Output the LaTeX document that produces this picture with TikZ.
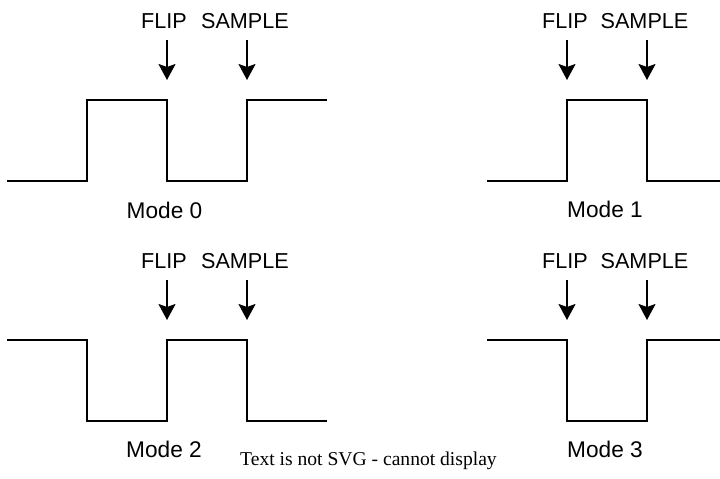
\documentclass[tikz,border=0pt]{standalone}
\usepackage{fontspec}
\setmainfont{Liberation Serif}
\newfontfamily\labelfont{Liberation Sans}
\usetikzlibrary{arrows.meta}

\begin{document}
\begin{tikzpicture}[
  x=0.02cm, y=-0.02cm,
  wave/.style={line width=0.04cm, line join=miter},
  arr/.style={-{Stealth[length=0.32cm, width=0.34cm, inset=0.06cm]}, line width=0.04cm},
  lbl/.style={font=\labelfont\fontsize{12.3}{14.5}\selectfont, anchor=base, inner sep=0pt},
  mode/.style={font=\labelfont\fontsize{12.9}{15}\selectfont, anchor=base, inner sep=0pt}
]
\useasboundingbox (0,0) rectangle (720,478);

%% pixel grid: 720 x 478, y grows downwards
%% rows: high level 100 / 340, low level 181 / 421

%% ─── MODE 0 (top left) ─────────────────────────────────────────────
\draw[wave] (7,181) -- (87,181) -- (87,100) -- (167,100) -- (167,181)
  -- (247,181) -- (247,100) -- (327,100);
\coordinate (m0_flip_top) at (167,40);
\coordinate (m0_flip_tip) at (167,80);
\coordinate (m0_smp_top) at (247,40);
\coordinate (m0_smp_tip) at (247,80);
\node[lbl] (m0_flip) at (164,28) {FLIP};
\node[lbl] (m0_smp) at (245,28) {SAMPLE};
\draw[arr] (m0_flip_top) -- (m0_flip_tip);
\draw[arr] (m0_smp_top) -- (m0_smp_tip);
\node[mode] (m0_cap) at (164.5,218) {Mode 0};

%% ─── MODE 1 (top right) ────────────────────────────────────────────
\draw[wave] (487,181) -- (567,181) -- (567,100) -- (647,100) -- (647,181)
  -- (720,181);
\coordinate (m1_flip_top) at (567,40);
\coordinate (m1_flip_tip) at (567,80);
\coordinate (m1_smp_top) at (647,40);
\coordinate (m1_smp_tip) at (647,80);
\node[lbl] (m1_flip) at (565,28) {FLIP};
\node[lbl] (m1_smp) at (644.5,28) {SAMPLE};
\draw[arr] (m1_flip_top) -- (m1_flip_tip);
\draw[arr] (m1_smp_top) -- (m1_smp_tip);
\node[mode] (m1_cap) at (605,217) {Mode 1};

%% ─── MODE 2 (bottom left) ──────────────────────────────────────────
\draw[wave] (7,340) -- (87,340) -- (87,421) -- (167,421) -- (167,340)
  -- (247,340) -- (247,421) -- (327,421);
\coordinate (m2_flip_top) at (167,280);
\coordinate (m2_flip_tip) at (167,320);
\coordinate (m2_smp_top) at (247,280);
\coordinate (m2_smp_tip) at (247,320);
\node[lbl] (m2_flip) at (164,268) {FLIP};
\node[lbl] (m2_smp) at (245,268) {SAMPLE};
\draw[arr] (m2_flip_top) -- (m2_flip_tip);
\draw[arr] (m2_smp_top) -- (m2_smp_tip);
\node[mode] (m2_cap) at (164,457) {Mode 2};

%% ─── MODE 3 (bottom right) ─────────────────────────────────────────
\draw[wave] (487,340) -- (567,340) -- (567,421) -- (647,421) -- (647,340)
  -- (720,340);
\coordinate (m3_flip_top) at (567,280);
\coordinate (m3_flip_tip) at (567,320);
\coordinate (m3_smp_top) at (647,280);
\coordinate (m3_smp_tip) at (647,320);
\node[lbl] (m3_flip) at (565,268) {FLIP};
\node[lbl] (m3_smp) at (644.5,268) {SAMPLE};
\draw[arr] (m3_flip_top) -- (m3_flip_tip);
\draw[arr] (m3_smp_top) -- (m3_smp_tip);
\node[mode] (m3_cap) at (605,457) {Mode 3};

%% fallback note of the exported picture
\node[anchor=base, inner sep=0pt, font=\fontsize{11.15}{13}\selectfont] (note) at (368.5,465)
  {Text is not SVG - cannot display};

\end{tikzpicture}
\end{document}
